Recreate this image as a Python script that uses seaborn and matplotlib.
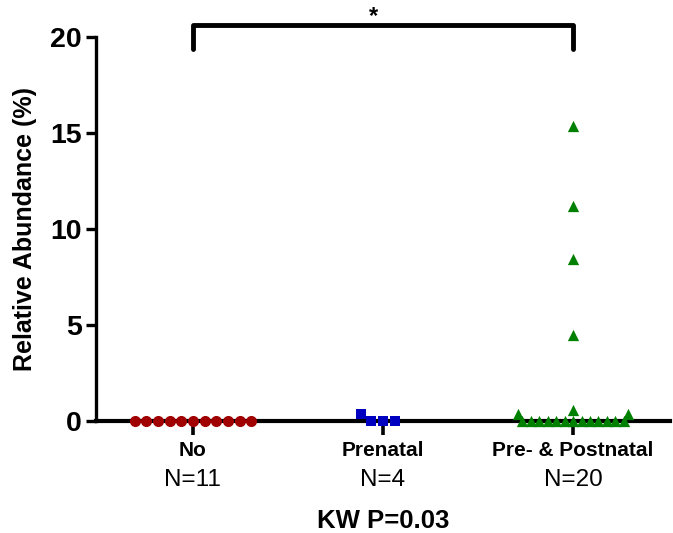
import numpy as np
import pandas as pd
import matplotlib
matplotlib.use('Agg')
import matplotlib.pyplot as plt
import seaborn as sns

sns.set_style('white')
plt.rcParams['font.family'] = ['Liberation Sans', 'DejaVu Sans']
plt.rcParams['text.color'] = 'black'
plt.rcParams['axes.labelcolor'] = 'black'
plt.rcParams['axes.edgecolor'] = 'black'
plt.rcParams['xtick.color'] = 'black'
plt.rcParams['ytick.color'] = 'black'

groups = ['No', 'Prenatal', 'Pre- & Postnatal']
group_n = ['N=11', 'N=4', 'N=20']
no_vals = [0.0] * 11
prenatal_vals = [0.0, 0.0, 0.0, 0.35]
prepost_vals = [0.0] * 13 + [0.36, 0.57, 0.36, 4.48, 8.44, 11.2, 15.36]
colors = ['#a00000', '#0000c0', '#008000']
markers = ['o', 's', '^']

df = pd.DataFrame({
    'group': ['No'] * len(no_vals) + ['Prenatal'] * len(prenatal_vals)
             + ['Pre- & Postnatal'] * len(prepost_vals),
    'abundance': no_vals + prenatal_vals + prepost_vals,
})

fig = plt.figure(figsize=(6.73, 5.33), dpi=100)
ax = fig.add_axes([0.1426, 0.2101, 0.853, 0.7205])

# swarm spacing size, then marker glyph scale (reference markers overlap / leave gaps)
swarm_sizes = [8.0, 8.3, 5.8]
glyph_scale = [1.0, 0.88, 1.4]
for g, c, m, sz, sc in zip(groups, colors, markers, swarm_sizes, glyph_scale):
    sub = df[df['group'] == g]
    n_before = len(ax.collections)
    sns.swarmplot(data=sub, x='group', y='abundance', order=groups, color=c,
                  marker=m, size=sz, linewidth=0, ax=ax, zorder=3)
    for coll in ax.collections[n_before:]:
        coll.set_clip_on(False)
        paths = [p.transformed(matplotlib.transforms.Affine2D().scale(sc))
                 for p in coll.get_paths()]
        coll.set_paths(paths)

ax.set_ylim(0, 20)
ax.set_xlim(-0.51, 2.51)
ax.set_yticks([0, 5, 10, 15, 20])
ax.set_yticklabels(['0', '5', '10', '15', '20'], fontsize=20.5, fontweight='bold')
ax.set_xticks(range(3))
ax.set_xticklabels([''] * 3)
for i, (g, n) in enumerate(zip(groups, group_n)):
    ax.text(i, -1.51, g, ha='center', va='center', fontsize=15, fontweight='bold')
    ax.text(i, -3.07, n, ha='center', va='center', fontsize=17.5)

ax.set_xlabel('KW P=0.03', fontsize=18.5, fontweight='bold', labelpad=50)
ax.set_ylabel('Relative Abundance (%)', fontsize=18, fontweight='bold', labelpad=10)

for side in ['top', 'right']:
    ax.spines[side].set_visible(False)
ax.spines['left'].set_linewidth(2.4)
ax.spines['bottom'].set_linewidth(3.0)
ax.tick_params(axis='y', direction='out', length=7, width=2.4, pad=3, left=True)
ax.tick_params(axis='x', direction='out', length=10, width=2.6, bottom=True)

# significance bracket
ax.plot([0, 0, 2, 2], [19.4, 20.6, 20.6, 19.4], color='black', lw=3.5,
        clip_on=False, solid_joinstyle='round')
ax.text(0.95, 21.05, '*', ha='center', va='center', fontsize=17, fontweight='bold')

fig.savefig('out.png', dpi=100)
